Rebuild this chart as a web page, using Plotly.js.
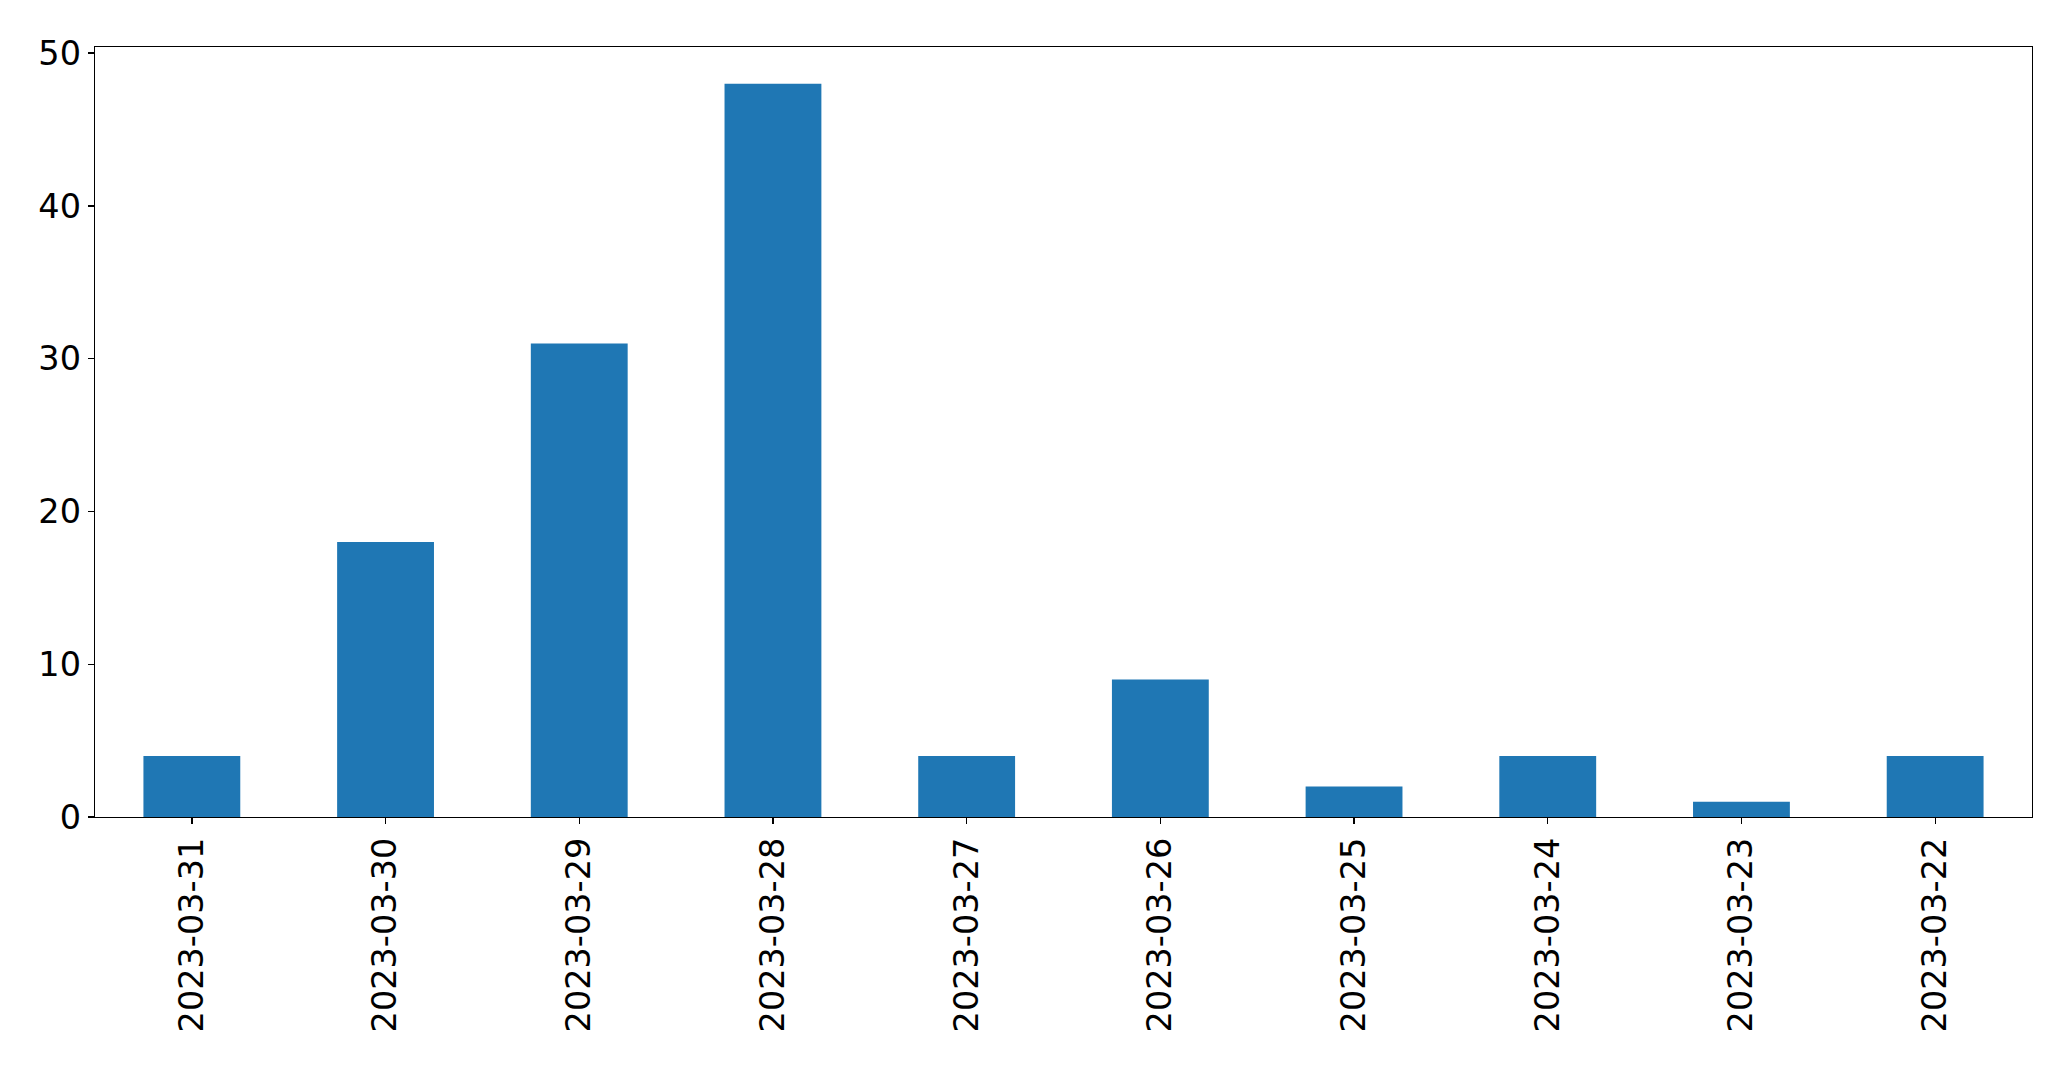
<!DOCTYPE html>
<html>
<head>
<meta charset="utf-8">
<script src="https://cdn.plot.ly/plotly-3.0.1.min.js"></script>
<style>html,body{margin:0;padding:0;background:#fff;}#chart{width:2071px;height:1069px;}</style>
</head>
<body>
<div id="chart"></div>
<script>
const dates = ["2023-03-31","2023-03-30","2023-03-29","2023-03-28","2023-03-27","2023-03-26","2023-03-25","2023-03-24","2023-03-23","2023-03-22"];
const counts = [4, 18, 31, 48, 4, 9, 2, 4, 1, 4];
const yTicks = [0, 10, 20, 30, 40, 50];

const font = {family: "DejaVu Sans", size: 33.5, color: "#000"};
Plotly.newPlot("chart", [{
  type: "bar",
  x: dates,
  y: counts,
  width: 0.5,
  marker: {color: "#1f77b4", line: {width: 0}},
  hoverinfo: "x+y"
}], {
  width: 2071, height: 1069,
  margin: {l: 95, r: 39.3, t: 47.3, b: 251.7, pad: 0},
  paper_bgcolor: "#fff", plot_bgcolor: "#fff",
  showlegend: false,
  font: font,
  xaxis: {
    type: "category",
    range: [-0.5, 9.5],
    tickangle: -90,
    ticks: "outside", ticklen: 6, tickwidth: 1.3, tickcolor: "#000",
    showline: true, linecolor: "#000", linewidth: 1.3, mirror: true,
    showgrid: false, zeroline: false, automargin: false,
    tickfont: font
  },
  yaxis: {
    range: [0, 50.4],
    tickvals: yTicks,
    ticktext: yTicks.map(String),
    ticks: "outside", ticklen: 6, tickwidth: 1.3, tickcolor: "#000",
    showline: true, linecolor: "#000", linewidth: 1.3, mirror: true,
    showgrid: false, zeroline: false, automargin: false,
    tickfont: font
  }
}, {displayModeBar: false, staticPlot: true});
</script>
</body>
</html>
